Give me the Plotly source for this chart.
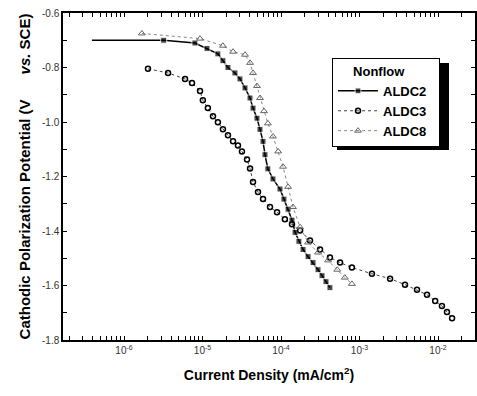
import plotly.graph_objects as go

# ALDC2 (filled squares)
aldc2_i = [3.9e-7, 3.2e-6, 8.0e-6, 1.14e-5, 1.57e-5, 1.82e-5, 2.11e-5, 2.59e-5, 3.0e-5, 3.48e-5,
           4.03e-5, 4.4e-5, 4.94e-5, 5.4e-5, 5.9e-5, 6.25e-5, 6.8e-5, 7.9e-5, 9.7e-5, 1.09e-4,
           1.23e-4, 1.38e-4, 1.51e-4, 1.69e-4, 1.91e-4, 2.21e-4, 2.56e-4, 2.96e-4, 3.33e-4, 3.74e-4, 4.2e-4]
aldc2_e = [-0.70, -0.70, -0.71, -0.73, -0.75, -0.775, -0.80, -0.82, -0.842, -0.875,
           -0.912, -0.949, -0.986, -1.027, -1.071, -1.120, -1.172, -1.209, -1.246, -1.283,
           -1.320, -1.360, -1.405, -1.438, -1.468, -1.494, -1.516, -1.542, -1.564, -1.586, -1.608]

# ALDC3 (open circles)
aldc3_i = [2.02e-6, 3.64e-6, 5.99e-6, 7.35e-6, 9.3e-6, 1.01e-5, 1.17e-5, 1.36e-5, 1.57e-5, 1.82e-5,
           2.11e-5, 2.45e-5, 2.83e-5, 3.18e-5, 3.69e-5, 4.03e-5, 4.4e-5, 5.09e-5, 5.9e-5, 7.24e-5,
           8.9e-5, 1.12e-4, 1.38e-4, 1.75e-4, 2.34e-4, 3.14e-4, 4.2e-4, 5.65e-4, 8.0e-4, 1.44e-3,
           2.45e-3, 3.8e-3, 5.4e-3, 7.24e-3, 9.2e-3, 1.12e-2, 1.3e-2, 1.51e-2]
aldc3_e = [-0.805, -0.820, -0.842, -0.857, -0.886, -0.920, -0.949, -0.979, -1.001, -1.027,
           -1.049, -1.071, -1.086, -1.108, -1.138, -1.171, -1.220, -1.257, -1.283, -1.312,
           -1.331, -1.357, -1.375, -1.398, -1.435, -1.468, -1.497, -1.516, -1.534, -1.557,
           -1.575, -1.597, -1.616, -1.634, -1.657, -1.675, -1.697, -1.720]

# ALDC8 (open triangles)
aldc8_i = [1.69e-6, 9.3e-6, 1.82e-5, 2.45e-5, 3.48e-5, 4.03e-5, 4.4e-5, 4.94e-5, 5.4e-5, 6.07e-5,
           6.8e-5, 7.9e-5, 9.2e-5, 1.06e-4, 1.23e-4, 1.42e-4, 1.75e-4, 2.21e-4, 2.96e-4, 3.97e-4,
           5.2e-4, 6.5e-4, 8.0e-4]
aldc8_e = [-0.675, -0.694, -0.720, -0.742, -0.753, -0.783, -0.820, -0.868, -0.912, -0.960,
           -1.005, -1.053, -1.108, -1.164, -1.238, -1.312, -1.386, -1.442, -1.479, -1.508,
           -1.542, -1.571, -1.594]

# tick positions and labels (decades labelled, intermediate ticks unlabelled)
x_decades = [-7, -6, -5, -4, -3, -2]
x_labelled = {-6: "10<sup>-6</sup>", -5: "10<sup>-5</sup>", -4: "10<sup>-4</sup>",
              -3: "10<sup>-3</sup>", -2: "10<sup>-2</sup>"}
x_tickvals, x_ticktext = [], []
for e in x_decades:
    for m in range(1, 10):
        x_tickvals.append(m * 10.0 ** e)
        x_ticktext.append(x_labelled.get(e, "") if m == 1 else "")

y_tickvals = [-0.6, -0.7, -0.8, -0.9, -1.0, -1.1, -1.2, -1.3, -1.4, -1.5, -1.6, -1.7, -1.8]
y_ticktext = ["-0.6", "", "-0.8", "", "-1.0", "", "-1.2", "", "-1.4", "", "-1.6", "", "-1.8"]

FONT = "Liberation Sans, Arial, sans-serif"
NB = "\u00a0"

fig = go.Figure()
fig.add_trace(go.Scatter(
    x=aldc2_i, y=aldc2_e, name="ALDC2", mode="lines+markers",
    line=dict(color="black", width=1.5),
    marker=dict(symbol="square", size=[0] + [6] * (len(aldc2_i) - 1), color="black"),
))
fig.add_trace(go.Scatter(
    x=aldc3_i, y=aldc3_e, name="ALDC3", mode="lines+markers",
    line=dict(color="#444444", width=1, dash="dot"),
    marker=dict(symbol="circle-open", size=5, color="black", line=dict(width=1.5)),
))
fig.add_trace(go.Scatter(
    x=aldc8_i, y=aldc8_e, name="ALDC8", mode="lines+markers",
    line=dict(color="#888888", width=1, dash="dot"),
    marker=dict(symbol="triangle-up-open", size=6, color="#666666", line=dict(width=1)),
))

axis_common = dict(
    showline=True, linecolor="black", linewidth=1.5, mirror="allticks",
    ticks="inside", ticklen=4, tickcolor="black", tickwidth=1.2,
    showgrid=False, zeroline=False,
    tickfont=dict(family=FONT, size=10, color="#333333"),
)

fig.update_xaxes(
    type="log", range=[-6.777, -1.529],
    tickmode="array", tickvals=x_tickvals, ticktext=x_ticktext,
    title=dict(text="Current Density (mA/cm<sup>2</sup>)",
               font=dict(family=FONT, size=14, color="black", weight="bold"), standoff=15),
    **axis_common,
)
fig.update_yaxes(
    range=[-1.8, -0.6],
    tickmode="array", tickvals=y_tickvals, ticktext=y_ticktext,
    title=dict(text="Cathodic Polarization Potential (V" + NB * 6 + "<i>vs.</i> SCE)" + NB * 4,
               font=dict(family=FONT, size=15, color="black", weight="bold"), standoff=8),
    **axis_common,
)

# legend shadow
fig.add_shape(type="rect", xref="paper", yref="paper",
              x0=(337 - 63) / 412, x1=(449 - 63) / 412,
              y0=(340 - 150) / 327, y1=(340 - 63) / 327,
              fillcolor="black", line=dict(width=0), layer="above")

fig.update_layout(
    width=477, height=396,
    margin=dict(l=63, r=2, t=13, b=56, autoexpand=False),
    paper_bgcolor="white", plot_bgcolor="white",
    font=dict(family=FONT, color="black"),
    showlegend=True,
    legend=dict(
        x=(332 - 63) / 412, y=(340 - 58) / 327, xanchor="left", yanchor="top",
        bgcolor="white", bordercolor="black", borderwidth=1,
        title=dict(text=NB * 5 + "Nonflow" + NB * 9, side="top",
                   font=dict(family=FONT, size=13, color="black", weight="bold")),
        font=dict(family=FONT, size=13, color="black", weight="bold"),
        itemwidth=40,
        tracegroupgap=0,
    ),
)

fig.write_html("out.html")
